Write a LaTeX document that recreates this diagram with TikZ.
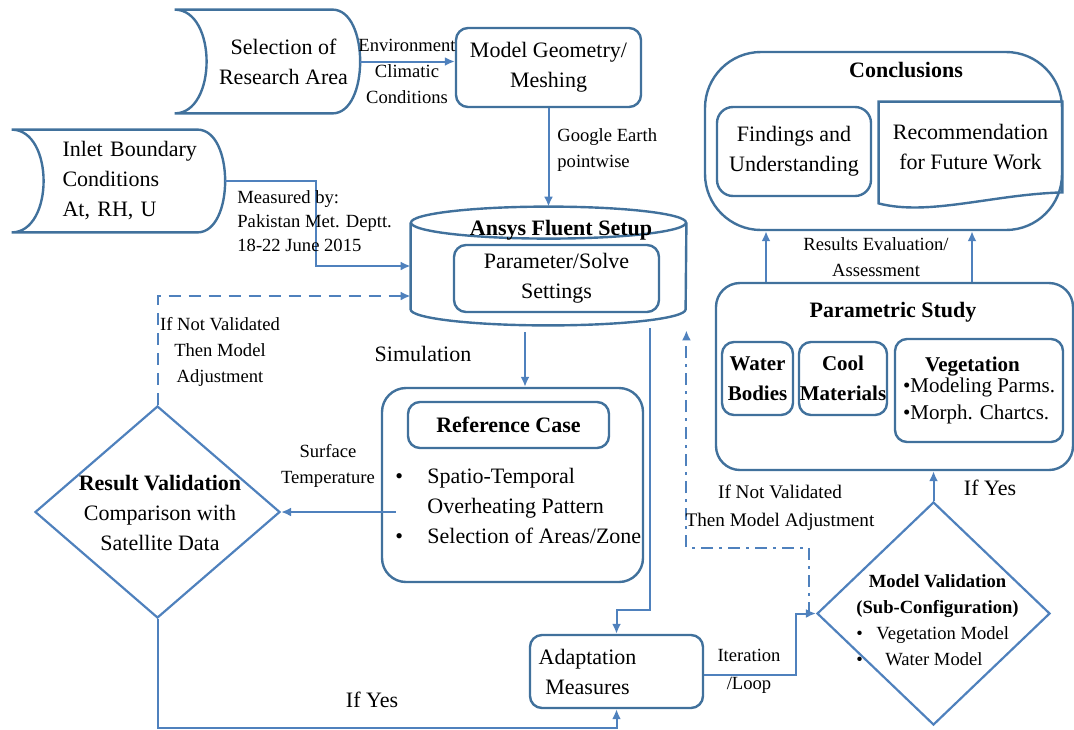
\documentclass[tikz,border=0pt]{standalone}
\usepackage{fontspec}
\setmainfont{Liberation Serif}
\usetikzlibrary{shapes.geometric,arrows.meta}
\definecolor{boxblue}{RGB}{65,113,156}
\definecolor{lineblue}{RGB}{79,129,189}
% stored data outline round a node: concave left, round right
\newcommand{\datashape}[1]{%
	\draw[boxblue, line width=1.2pt] ([xshift=-16pt]#1.north west) -- ([xshift=-14pt]#1.north east)
		.. controls ([xshift=4.5pt]#1.north east) and ([xshift=4.5pt]#1.south east) .. ([xshift=-14pt]#1.south east)
		-- ([xshift=-16pt]#1.south west)
		.. controls ([xshift=5.33pt]#1.south west) and ([xshift=5.33pt]#1.north west) .. ([xshift=-16pt]#1.north west) -- cycle;}

\begin{document}
\begin{tikzpicture}
	[x=0.5pt, y=-0.5pt,
	every node/.style={font=\fontsize{11}{15}\selectfont, inner sep=0pt, align=center},
	procbox/.style={draw=boxblue, line width=1.2pt, rounded corners=6pt},
	lbl/.style={font=\fontsize{9.3}{13}\selectfont},
	flow/.style={draw=lineblue, line width=1pt, -{Latex[length=5pt,width=4.5pt]}},
	decide/.style={diamond, draw=lineblue, line width=1.1pt}]
	\useasboundingbox (0,0) rectangle (1074,729);
	% inputs and model setup
	\node (sel) [minimum width=76.5pt, minimum height=51.5pt] at (283.5,61.5) {Selection of\\Research Area};
	\datashape{sel}
	\node (inlet) [minimum width=90.5pt, minimum height=51pt, text width=72pt, align=left] at (134.5,181) {Inlet Boundary\\Conditions\\At, RH, U};
	\datashape{inlet}
	\node (model) [procbox, minimum width=92.5pt, minimum height=39.5pt] at (548.5,67.5) {Model Geometry/\\Meshing};
	\node (fluent) [minimum width=137.5pt, minimum height=59pt] at (548.5,266) {};
	\draw[boxblue, line width=1.2pt] ([yshift=-8pt]fluent.north west) -- ([yshift=8pt]fluent.south west)
		arc[start angle=180, end angle=360, x radius=68.75pt, y radius=8pt] -- ([yshift=-8pt]fluent.north east);
	\draw[boxblue, line width=1.2pt] ([yshift=-8pt]fluent.north) ellipse [x radius=68.75pt, y radius=8pt];
	\node (setup) at (561,230) {\bfseries Ansys Fluent Setup};
	\node (solve) [procbox, minimum width=102.5pt, minimum height=33.5pt] at (556.5,278.5) {Parameter/Solve\\Settings};
	% reference case and validation
	\node (refbox) [procbox, rounded corners=12pt, minimum width=130.5pt, minimum height=97pt] at (512.5,485) {};
	\node (reftitle) [procbox, minimum width=100.5pt, minimum height=23pt] at (508.5,425) {\bfseries Reference Case};
	\node (refitems) [anchor=west, align=left] at (395,506) {\makebox[16pt][l]{•}Spatio-Temporal\\\hspace*{16pt}Overheating Pattern\\\makebox[16pt][l]{•}Selection of Areas/Zone};
	\node (resval) [decide, minimum width=122.5pt, minimum height=106pt,
		label={[xshift=1.25pt, yshift=-0.5pt]center:{\textbf{Result Validation}\\Comparison with\\Satellite Data}}] at (157.5,512) {};
	\node (adapt) [procbox, minimum width=86.5pt, minimum height=36.5pt,
		label={[xshift=-14.5pt]center:{Adaptation\\Measures}}] at (616.5,671.5) {};
	\node (modval) [decide, minimum width=116.5pt, minimum height=111.5pt,
		label={[lbl, xshift=2pt, yshift=-3.75pt]center:{\begin{tabular}{@{}l@{}}\multicolumn{1}{@{}c@{}}{\textbf{Model Validation}}\\\multicolumn{1}{@{}c@{}}{\textbf{(Sub-Configuration)}}\\\makebox[10pt][l]{•}Vegetation Model\\\makebox[14.5pt][l]{•}Water Model\end{tabular}}}] at (933.5,613.5) {};
	% parametric study
	\node (pstudy) [procbox, rounded corners=12pt, minimum width=178.5pt, minimum height=93.5pt] at (894.5,376.5) {};
	\node (ptitle) at (893,312) {\bfseries Parametric Study};
	\node (water) [procbox, font=\fontsize{10.5}{15}\selectfont\bfseries, minimum width=35.5pt, minimum height=36.5pt] at (757.5,378.5) {Water\\Bodies};
	\node (cool) [procbox, font=\fontsize{10.5}{15}\selectfont\bfseries, minimum width=44pt, minimum height=36.5pt] at (843,378.5) {Cool\\Materials};
	\node (veg) [procbox, font=\fontsize{10.5}{13.5}\selectfont, align=left, minimum width=84pt, minimum height=51.5pt] at (979,390.5) {\hspace*{11pt}\textbf{Vegetation}\\[-3pt]•Modeling Parms.\\•Morph. Chartcs.};
	% conclusions
	\node (concl) [procbox, rounded corners=28pt, minimum width=178.5pt, minimum height=89pt] at (883.5,141) {};
	\node (ctitle) at (906,70) {\bfseries Conclusions};
	\node (find) [procbox, rounded corners=8pt, minimum width=77pt, minimum height=44.5pt] at (794,151.5) {Findings and\\Understanding};
	\node (recom) [minimum width=91.5pt, minimum height=45pt] at (970.5,147) {Recommendation\\for Future Work};
	\draw[boxblue, line width=1.2pt] ([yshift=-5.5pt]recom.south west) -- (recom.north west) -- (recom.north east) -- (recom.south east)
		.. controls ([xshift=-35pt,yshift=-1pt]recom.south east) and ([xshift=25pt,yshift=-12pt]recom.south west) .. ([yshift=-5.5pt]recom.south west) -- cycle;
	% connectors
	\draw[flow] (sel.east) -- (sel.east -| model.west);
	\node (envlbl) [lbl] at (407,71) {Environment\\Climatic\\Conditions};
	\draw[flow] (model.south) -- (model.south |- fluent.north);
	\node (gelbl) [lbl, anchor=west, align=left] at (557,150) {Google Earth\\pointwise};
	\draw[flow] (inlet.east) -| (316,266) -- (fluent.west);
	\node (measlbl) [lbl, font=\fontsize{9.3}{12}\selectfont, anchor=west, align=left] at (237,221) {Measured by:\\Pakistan Met. Deptt.\\18-22 June 2015};
	\draw[flow, dash pattern=on 6pt off 4pt] (resval.north) |- ([yshift=-15pt]fluent.west);
	\node (nv1lbl) [lbl] at (220,351.5) {If Not Validated\\Then Model\\Adjustment};
	\coordinate (simtop) at ([xshift=-11.75pt, yshift=-3.5pt]fluent.south);
	\draw[flow] (simtop) -- (simtop |- refbox.north);
	\node (simlbl) at (423,354) {Simulation};
	\draw[flow] ([xshift=7.5pt, yshift=-13.5pt]refbox.west) -- (resval.east);
	\node (stlbl) [lbl] at (328,466) {Surface\\Temperature};
	\draw[flow] (resval.south) -- ++(0,109) -| (adapt.south);
	\node (yes1lbl) at (372,700) {If Yes};
	\draw[flow] ([xshift=50.75pt, yshift=-1.5pt]fluent.south) -- ++(0,282) -| (adapt.north);
	\draw[flow] ([yshift=-1.75pt]adapt.east) -- ++(92,0) |- (modval.west);
	\node (iterlbl) [lbl, font=\fontsize{9.3}{14}\selectfont] at (749,671) {Iteration\\/Loop};
	\draw[flow] (modval.north) -- (modval.north |- pstudy.south);
	\node (yes2lbl) at (990,488) {If Yes};
	\draw[flow, dash pattern=on 6pt off 3pt on 1.5pt off 3pt] ([xshift=-3.5pt]modval.west) -- ++(0,-66) -| ([yshift=-2.5pt]fluent.south east);
	\node (nv2lbl) [lbl, font=\fontsize{9.6}{14}\selectfont] at (780,508) {If Not Validated\\Then Model Adjustment};
	\coordinate (ev1) at ([xshift=-64.25pt]pstudy.north);
	\coordinate (ev2) at ([xshift=38.75pt]pstudy.north);
	\draw[flow] (ev1) -- (ev1 |- concl.south);
	\draw[flow] (ev2) -- (ev2 |- concl.south);
	\node (evallbl) [lbl] at (876,257) {Results Evaluation/\\Assessment};
\end{tikzpicture}
\end{document}
